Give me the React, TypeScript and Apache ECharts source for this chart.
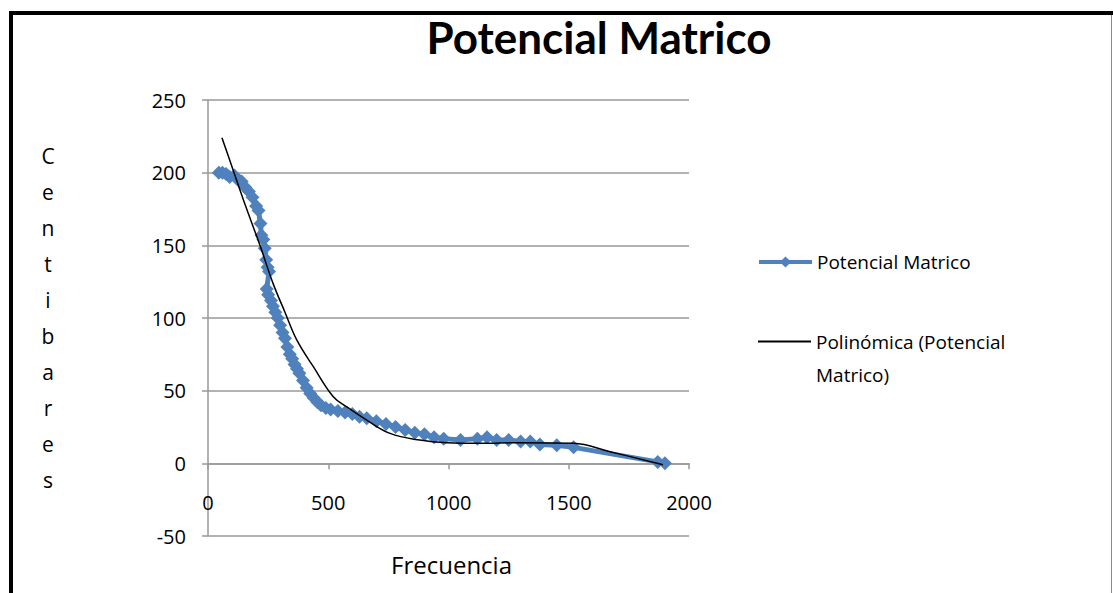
import React, { useEffect, useRef } from "react";
import * as echarts from "echarts";

const TITLE = "Potencial Matrico";
const SERIES_NAME = "Potencial Matrico";
const TREND_NAME = "Polinómica (Potencial Matrico)";
const X_NAME = "Frecuencia";
const Y_NAME = "Centibares";

// measured series (frequency, centibares)
const freq = [45, 60, 75, 90, 110, 125, 140, 155, 170, 185, 200, 210, 218, 222, 230, 236, 242, 248, 254, 244, 250, 262, 270, 280, 290, 300, 310, 320, 330, 340, 350, 360, 370, 380, 395, 410, 425, 440, 455, 470, 490, 510, 540, 570, 600, 630, 660, 700, 740, 780, 820, 860, 900, 940, 980, 1050, 1120, 1160, 1200, 1250, 1300, 1340, 1380, 1450, 1520, 1870, 1900];
const centibares = [200, 200, 199, 197, 198, 195, 194, 190, 187, 183, 177, 174, 165, 157, 154, 148, 140, 135, 132, 120, 116, 112, 108, 104, 100, 95, 90, 86, 80, 75, 72, 68, 65, 62, 57, 52, 48, 45, 42, 40, 38, 37, 36, 35, 34, 32, 31, 29, 27, 25, 23, 21, 20, 18, 17, 16, 17, 18, 16, 16, 15, 15, 13, 12.5, 11, 1, 0];

// polynomial trendline
const trendX = [58, 104, 150, 216, 270, 320, 369, 438, 521, 577, 660, 757, 881, 993, 1131, 1297, 1519, 1672, 1892];
const trendY = [224, 202, 180, 150, 124, 104, 84.9, 66.5, 45.8, 38.9, 29.8, 20.6, 16, 14.2, 13.8, 14.2, 13.8, 8, -1];

const xTicks = { min: 0, max: 2000, interval: 500 };
const yTicks = { min: -50, max: 250, interval: 50 };

const FONT = "'Open Sans', sans-serif";

export default function App() {
  const ref = useRef<HTMLDivElement>(null);
  useEffect(() => {
    document.body.style.margin = "0";
    const chart = echarts.init(ref.current!, null, { renderer: "svg" });
    const seriesData = freq.map((f, i) => [f, centibares[i]]);
    const trendData = trendX.map((f, i) => [f, trendY[i]]);
    chart.setOption({
      animation: false,
      backgroundColor: "#ffffff",
      title: {
        text: TITLE,
        left: 594,
        top: 10,
        textAlign: "center",
        textStyle: { fontFamily: "Lato, sans-serif", fontWeight: "bold", fontSize: 44, color: "#000" },
      },
      legend: [
        {
          data: [SERIES_NAME],
          left: 757,
          top: 250,
          padding: 0,
          itemWidth: 53,
          itemHeight: 14,
          lineStyle: { width: 4 },
          textStyle: { fontFamily: FONT, fontSize: 19, color: "#000", lineHeight: 24 },
        },
        {
          data: [{ name: TREND_NAME, itemStyle: { opacity: 0 } }],
          left: 757,
          top: 292,
          padding: 0,
          itemWidth: 53,
          itemHeight: 14,
          formatter: () => "\nPolinómica (Potencial\nMatrico)",
          textStyle: { fontFamily: FONT, fontSize: 19, color: "#000", lineHeight: 33 },
        },
      ],
      grid: { left: 208, right: 424, top: 100, bottom: 57, outerBoundsMode: "none" },
      xAxis: {
        type: "value",
        ...xTicks,
        name: X_NAME,
        nameLocation: "middle",
        nameGap: 16,
        nameMoveOverlap: false,
        nameTextStyle: { fontFamily: FONT, fontSize: 24, color: "#000", padding: [0, 0, 0, 6] },
        axisLine: { onZero: true, lineStyle: { color: "#999", width: 1.5 } },
        axisTick: { show: true, length: 6, lineStyle: { color: "#999", width: 1.5 } },
        axisLabel: { margin: -44, fontFamily: FONT, fontSize: 20, color: "#000", formatter: (v: number) => String(v) },
        splitLine: { show: false },
      },
      yAxis: {
        type: "value",
        ...yTicks,
        name: Y_NAME.split("").join("\n"),
        nameLocation: "middle",
        nameRotate: 0,
        nameGap: 160,
        nameMoveOverlap: false,
        nameTextStyle: { fontFamily: FONT, fontSize: 21, color: "#000", lineHeight: 36, align: "center" },
        axisLine: { show: true, lineStyle: { color: "#999", width: 1.5 } },
        axisTick: { show: true, length: 6, lineStyle: { color: "#999", width: 1.5 } },
        axisLabel: { margin: 22, fontFamily: FONT, fontSize: 20, color: "#000", formatter: (v: number) => String(v) },
        splitLine: { show: true, lineStyle: { color: "#999", width: 1.5 } },
      },
      series: [
        {
          name: SERIES_NAME,
          type: "line",
          data: seriesData,
          symbol: "diamond",
          symbolSize: 14,
          color: "#4F81BD",
          lineStyle: { width: 5, color: "#4F81BD" },
          itemStyle: { color: "#4F81BD" },
          z: 2,
        },
        {
          name: TREND_NAME,
          type: "line",
          data: trendData,
          symbol: "none",
          smooth: 0.4,
          color: "#000",
          lineStyle: { width: 1.5, color: "#000" },
          z: 3,
        },
      ],
      graphic: [
        { type: "line", shape: { x1: 9, y1: 13, x2: 1113, y2: 13 }, style: { stroke: "#000", lineWidth: 4 } },
        { type: "line", shape: { x1: 11, y1: 11, x2: 11, y2: 593 }, style: { stroke: "#000", lineWidth: 4 } },
        { type: "line", shape: { x1: 1111.5, y1: 15, x2: 1111.5, y2: 593 }, style: { stroke: "#888", lineWidth: 1 } },
      ],
    });
    return () => chart.dispose();
  }, []);
  return <div ref={ref} style={{ width: 1113, height: 593 }} />;
}
